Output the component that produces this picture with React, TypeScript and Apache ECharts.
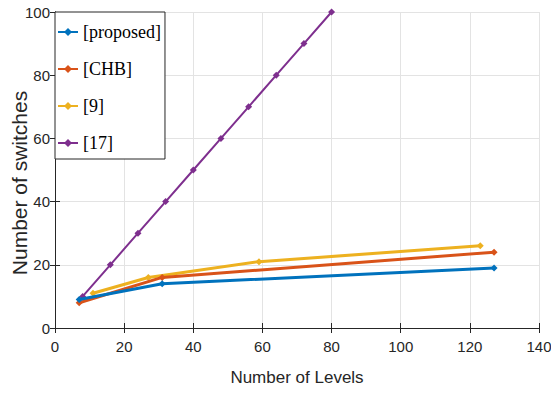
import React, { useEffect, useRef } from "react";
import * as echarts from "echarts";

const xTicks = [0, 20, 40, 60, 80, 100, 120, 140];
const yTicks = [0, 20, 40, 60, 80, 100];

const seriesNames = ["[proposed]", "[CHB]", "[9]", "[17]"];
const seriesColors = ["#0072BD", "#D95319", "#EDB120", "#7E2F8E"];

const proposedX = [7, 31, 127];
const proposedY = [9, 14, 19];
const chbX = [7, 31, 127];
const chbY = [8, 16, 24];
const ref9X = [11, 27, 59, 123];
const ref9Y = [11, 16, 21, 26];
const ref17X = [8, 16, 24, 32, 40, 48, 56, 64, 72, 80];
const ref17Y = [10, 20, 30, 40, 50, 60, 70, 80, 90, 100];

const xs = [proposedX, chbX, ref9X, ref17X];
const ys = [proposedY, chbY, ref9Y, ref17Y];
const widths = [3, 3, 3, 2];

const sans = "'Liberation Sans', Arial, sans-serif";

export default function App() {
  const ref = useRef<HTMLDivElement>(null);
  useEffect(() => {
    if (!ref.current) return;
    const chart = echarts.init(ref.current, null, { renderer: "svg" });
    const axisCommon = {
      type: "value" as const,
      axisLine: { show: true, lineStyle: { color: "#262626", width: 1 } },
      axisTick: { show: true, inside: true, length: 5, lineStyle: { color: "#262626" } },
    };
    chart.setOption({
      animation: false,
      backgroundColor: "#ffffff",
      grid: { left: 55, right: 12, top: 12, bottom: 75, containLabel: false, outerBoundsMode: "none" },
      legend: {
        orient: "vertical",
        left: 55,
        top: 12,
        data: seriesNames,
        backgroundColor: "#ffffff",
        borderColor: "#262626",
        borderWidth: 1,
        borderRadius: 0,
        padding: [11, 4, 7, 2],
        itemWidth: 20,
        itemHeight: 10,
        itemGap: 19,
        textStyle: { fontFamily: "'Liberation Serif', 'Times New Roman', serif", fontSize: 18, color: "#000" },
      },
      xAxis: [
        {
          ...axisCommon,
          min: 0,
          max: 140,
          interval: 20,
          position: "bottom",
          name: "Number of Levels",
          nameLocation: "middle",
          nameGap: 41,
          nameMoveOverlap: false,
          nameTextStyle: { fontFamily: sans, fontSize: 17, color: "#262626" },
          axisLabel: {
            margin: 11,
            fontFamily: sans,
            fontSize: 15,
            color: "#262626",
            formatter: (v: number) => (xTicks.includes(v) ? String(v) : ""),
          },
          splitLine: { show: true, lineStyle: { color: "#e3e3e3", width: 1 } },
        },
        {
          ...axisCommon,
          min: 0,
          max: 140,
          interval: 20,
          position: "top",
          axisLabel: { show: false },
          splitLine: { show: false },
        },
      ],
      yAxis: [
        {
          ...axisCommon,
          min: 0,
          max: 100,
          interval: 20,
          position: "left",
          name: "Number of switches",
          nameLocation: "middle",
          nameGap: 25,
          nameMoveOverlap: false,
          nameTextStyle: {
            fontFamily: sans,
            fontSize: 21,
            color: "#262626",
            padding: [0, 26, 0, 0],
          },
          axisLabel: {
            margin: 5,
            fontFamily: sans,
            fontSize: 15,
            color: "#262626",
            formatter: (v: number) => (yTicks.includes(v) ? String(v) : ""),
          },
          splitLine: { show: true, lineStyle: { color: "#e3e3e3", width: 1 } },
        },
        {
          ...axisCommon,
          min: 0,
          max: 100,
          interval: 20,
          position: "right",
          axisLabel: { show: false },
          splitLine: { show: false },
        },
      ],
      series: seriesNames.map((name, i) => ({
        name,
        type: "line",
        xAxisIndex: 0,
        yAxisIndex: 0,
        data: xs[i].map((x, j) => [x, ys[i][j]]),
        color: seriesColors[i],
        lineStyle: { width: widths[i], color: seriesColors[i] },
        symbol: "diamond",
        symbolSize: 7,
        showSymbol: true,
        itemStyle: { color: seriesColors[i] },
        z: 10 - i,
      })),
    });
    return () => chart.dispose();
  }, []);
  return <div ref={ref} style={{ width: 551, height: 403, position: "absolute", left: 0, top: 0 }} />;
}
